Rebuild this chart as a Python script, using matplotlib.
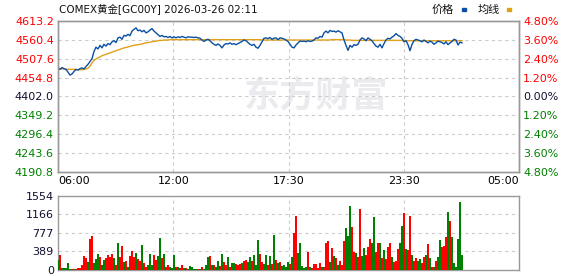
import numpy as np
import matplotlib.pyplot as plt
from matplotlib.patches import Rectangle

plt.rcParams['font.family'] = ['DejaVu Sans', 'Noto Sans CJK SC']

# header / labels
title = "COMEX黄金[GC00Y] 2026-03-26 02:11"
legend_names = ["价格", "均线"]
time_labels = ["06:00", "12:00", "17:30", "23:30", "05:00"]
price_ticks = [4190.8, 4243.6, 4296.4, 4349.2, 4402.0, 4454.8, 4507.6, 4560.4, 4613.2]
pct_labels = ["4.80%", "3.60%", "2.40%", "1.20%", "0.00%", "1.20%", "2.40%", "3.60%", "4.80%"]
vol_ticks = [0, 389, 777, 1166, 1554]
n_slots = 230.5  # whole session length, in slots

# intraday price (one value per slot)
price = [
    4481, 4478, 4483, 4480, 4478, 4470, 4462, 4465, 4472, 4478,
    4476, 4480, 4482, 4479, 4486, 4492, 4500, 4508, 4528, 4540,
    4535, 4545, 4538, 4548, 4543, 4550, 4547, 4555, 4558, 4553,
    4566, 4568, 4562, 4573, 4571, 4576, 4572, 4585, 4590, 4594,
    4586, 4588, 4583, 4587, 4580, 4583, 4588, 4592, 4585, 4580,
    4575, 4570, 4573, 4569, 4570, 4567, 4570, 4566, 4569, 4566,
    4569, 4567, 4570, 4568, 4566, 4569, 4568, 4568, 4567, 4568,
    4566, 4565, 4560, 4556, 4560, 4562, 4558, 4552, 4548, 4545,
    4549, 4545, 4538, 4546, 4550, 4549, 4552, 4548, 4550, 4547,
    4550, 4553, 4556, 4560, 4558, 4553, 4548, 4545, 4548, 4540,
    4537, 4545, 4555, 4565, 4566, 4564, 4567, 4562, 4565, 4566,
    4561, 4566, 4565, 4563, 4560, 4556, 4548, 4540, 4538, 4546,
    4552, 4557, 4556, 4557, 4555, 4558, 4556, 4557, 4560, 4566,
    4565, 4570, 4568, 4580, 4585, 4580, 4587, 4584, 4585, 4582,
    4586, 4583, 4580, 4560, 4545, 4531, 4545, 4540, 4547, 4545,
    4548, 4560, 4566, 4563, 4558, 4566, 4562, 4558, 4550, 4543,
    4540, 4548, 4538, 4550, 4560, 4565, 4563, 4568, 4572, 4578,
    4573, 4570, 4565, 4555, 4558, 4547, 4530, 4548, 4558, 4562,
    4560, 4558, 4555, 4560, 4556, 4552, 4557, 4554, 4548, 4552,
    4557, 4555, 4553, 4549, 4555, 4547, 4552, 4556, 4562, 4560,
    4546, 4554, 4552,
]

# average price line
avg_price = [
    4481, 4480, 4479, 4479, 4478, 4478, 4478, 4478, 4478, 4477,
    4477, 4477, 4477, 4478, 4479, 4481, 4487, 4496, 4503, 4507,
    4510, 4513, 4516, 4518, 4520, 4522, 4524, 4526, 4528, 4530,
    4532, 4534, 4536, 4538, 4539, 4541, 4542, 4544, 4545, 4546,
    4547, 4548, 4549, 4551, 4552, 4553, 4554, 4555, 4556, 4557,
    4558, 4559, 4559, 4560, 4560, 4560, 4561, 4561, 4561, 4561,
    4561, 4561, 4561, 4561, 4561, 4561, 4561, 4561, 4561, 4561,
    4561, 4561, 4561, 4561, 4561, 4561, 4561, 4561, 4561, 4561,
    4561, 4561, 4561, 4561, 4561, 4561, 4561, 4561, 4561, 4561,
    4561, 4561, 4561, 4561, 4561, 4561, 4561, 4561, 4561, 4561,
    4561, 4561, 4560, 4560, 4560, 4560, 4560, 4560, 4560, 4560,
    4560, 4560, 4560, 4560, 4560, 4560, 4560, 4560, 4560, 4560,
    4560, 4560, 4560, 4560, 4560, 4560, 4560, 4560, 4560, 4560,
    4560, 4560, 4560, 4560, 4560, 4560, 4560, 4561, 4561, 4561,
    4561, 4561, 4561, 4561, 4560, 4560, 4560, 4559, 4559, 4559,
    4559, 4559, 4559, 4559, 4559, 4559, 4559, 4559, 4559, 4559,
    4559, 4559, 4559, 4559, 4559, 4559, 4559, 4559, 4559, 4559,
    4559, 4559, 4559, 4559, 4558, 4558, 4558, 4558, 4558, 4558,
    4558, 4558, 4558, 4558, 4558, 4558, 4558, 4558, 4558, 4558,
    4558, 4558, 4558, 4558, 4558, 4558, 4558, 4558, 4558, 4558,
    4558, 4558, 4558,
]

# volume per slot and its colour (r = up, g = down)
volume = [
    210, 315, 35, 35, 35, 140, 14, 14, 14, 14,
    35, 35, 105, 294, 245, 175, 644, 714, 140, 224,
    336, 280, 105, 210, 245, 308, 280, 336, 245, 105,
    574, 280, 504, 175, 196, 70, 294, 399, 280, 350,
    224, 196, 525, 154, 56, 105, 336, 105, 315, 210,
    294, 672, 245, 336, 56, 105, 56, 35, 315, 56,
    56, 35, 105, 35, 35, 14, 84, 56, 21, 21,
    21, 21, 56, 21, 105, 280, 294, 105, 105, 70,
    196, 84, 336, 175, 105, 280, 70, 154, 140, 126,
    105, 126, 140, 196, 210, 175, 280, 196, 315, 105,
    630, 336, 175, 126, 315, 105, 294, 126, 735, 210,
    154, 175, 84, 105, 56, 175, 126, 280, 784, 1134,
    350, 574, 84, 35, 70, 385, 70, 35, 126, 126,
    35, 140, 70, 56, 560, 616, 175, 455, 294, 245,
    105, 196, 105, 616, 875, 714, 1344, 896, 385, 364,
    280, 1274, 294, 455, 315, 476, 644, 560, 1106, 385,
    560, 560, 245, 420, 224, 476, 574, 280, 175, 196,
    434, 574, 924, 1190, 434, 420, 1134, 315, 196, 245,
    196, 224, 140, 280, 315, 546, 245, 56, 56, 196,
    280, 630, 476, 504, 700, 1225, 1036, 700, 154, 56,
    644, 1435, 315,
]
vol_color = ("grgggggrgr" "rrrrrgrrgg" "grggrrrrgr" "grrgrgrrrg" "rrgrrgggrr"
             "ggrgrrgggr" "grrgrggggg" "rgrgggrgrg" "grgrrgrggr" "rrgrrggrgg"
             "grrggrgrgr" "grggggrgrr" "gggggrgrrr" "rrgrrrgrgr" "grrrgggrrg"
             "rrggrrrggr" "rgrgrrrgrr" "rggrgrrgrr" "ggrrgrgrgr" "ggrrrgrggg"
             "ggg")

RED = '#ff0000'
GREEN = '#008000'
DARK = '#101030'
BLUE = '#0a4fa3'
GOLD = '#e0a018'
GRID = '#cccccc'
BORDER = '#999999'

W, H = 578, 276
fig = plt.figure(figsize=(W / 100, H / 100), dpi=100)


def px_axes(x0, y0, x1, y1):
    return fig.add_axes([x0 / W, 1 - y1 / H, (x1 - x0) / W, (y1 - y0) / H])


ax = px_axes(58, 21, 519, 172)
axv = px_axes(58, 196, 519, 270)

x = np.arange(len(price))
xgrid = np.linspace(0, n_slots, len(time_labels))

# ---- price panel
ax.plot(x, avg_price, color=GOLD, lw=1.0, zorder=3)
ax.plot(x, price, color=BLUE, lw=1.0, zorder=4)
ax.set_xlim(0, n_slots)
ax.set_ylim(price_ticks[0], price_ticks[-1])
ax.set_yticks(price_ticks)
ax.set_yticklabels([f"{v:.1f}" for v in price_ticks], fontsize=8)
for lab, v in zip(ax.get_yticklabels(), price_ticks):
    lab.set_color(RED if v > 4402.0 else (GREEN if v < 4402.0 else DARK))
ax.set_xticks(xgrid)
ax.set_xticklabels(time_labels, fontsize=8)
xl = ax.get_xticklabels()
xl[0].set_ha('left')
xl[-1].set_ha('right')
ax.tick_params(length=0, pad=3)
for v in price_ticks[1:-1]:
    ax.axhline(v, color=GRID, lw=0.8, ls=(0, (3, 3)), zorder=1)
for v in xgrid[1:-1]:
    ax.axvline(v, color=GRID, lw=0.8, ls=(0, (3, 3)), zorder=1)

axr = ax.twinx()
axr.set_ylim(ax.get_ylim())
axr.set_yticks(price_ticks)
axr.set_yticklabels(pct_labels[::-1], fontsize=8)
for lab, v in zip(axr.get_yticklabels(), price_ticks):
    lab.set_color(RED if v > 4402.0 else (GREEN if v < 4402.0 else DARK))
axr.tick_params(length=0, pad=3)

for a in (ax, axr, axv):
    for s in a.spines.values():
        s.set_color(BORDER)
        s.set_linewidth(1.0)

# watermark
ax.text(0.56, 0.5, "东方财富", transform=ax.transAxes, fontsize=26, color='#ebebef',
        fontweight='bold', family='Noto Sans CJK SC', ha='center', va='center', zorder=0)

# ---- volume panel
cols = [RED if c == 'r' else GREEN for c in vol_color]
axv.bar(x, volume, width=0.8, color=cols, linewidth=0, zorder=3)
axv.set_xlim(0, n_slots)
axv.set_ylim(vol_ticks[0], vol_ticks[-1])
axv.set_yticks(vol_ticks)
axv.set_yticklabels([str(v) for v in vol_ticks], fontsize=8, color=DARK)
axv.set_xticks([])
axv.tick_params(length=0, pad=3)
for v in vol_ticks[1:-1]:
    axv.axhline(v, color=GRID, lw=0.8, ls=(0, (3, 3)), zorder=1)
for v in xgrid[1:-1]:
    axv.axvline(v, color=GRID, lw=0.8, ls=(0, (3, 3)), zorder=1)

# ---- header
fig.text(59 / W, 1 - 9 / H, title, fontsize=7.5, color='#111111', ha='left', va='center')
fig.text(443 / W, 1 - 10 / H, legend_names[0], fontsize=8, color='#111111', ha='center', va='center')
fig.text(489 / W, 1 - 10 / H, legend_names[1], fontsize=8, color='#111111', ha='center', va='center')
fig.add_artist(Rectangle((462 / W, 1 - 11 / H), 4 / W, 3 / H, color=BLUE, transform=fig.transFigure))
fig.add_artist(Rectangle((507 / W, 1 - 11 / H), 4 / W, 3 / H, color=GOLD, transform=fig.transFigure))

fig.savefig("out.png", dpi=100)
